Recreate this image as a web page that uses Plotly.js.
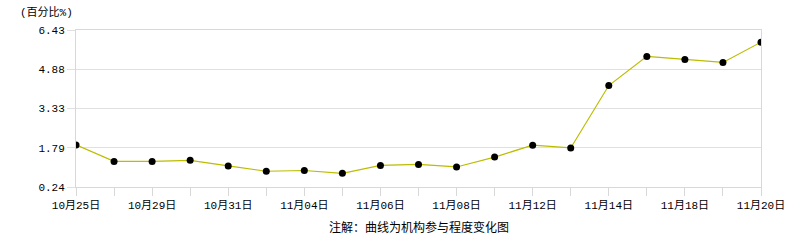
<!DOCTYPE html>
<html>
<head>
<meta charset="utf-8">
<script src="https://cdn.plot.ly/plotly-3.0.1.min.js"></script>
<style>html,body{margin:0;padding:0;background:#fff;}#chart{width:786px;height:240px;}</style>
</head>
<body>
<div id="chart"></div>
<script>
const categories = ["10月25日","10月28日","10月29日","10月30日","10月31日","11月01日","11月04日","11月05日","11月06日","11月07日","11月08日","11月11日","11月12日","11月13日","11月14日","11月15日","11月18日","11月19日","11月20日"];
const values = [1.90,1.25,1.25,1.29,1.07,0.86,0.89,0.78,1.09,1.13,1.03,1.42,1.89,1.78,4.24,5.39,5.27,5.15,5.95];
const yTicks = [0.24,1.79,3.33,4.88,6.43];
const yTickText = ["0.24","1.79","3.33","4.88","6.43"];
const xTickText = categories.map((c,i)=> i%2===0 ? c : "");

const FONT = "Liberation Mono, 'Noto Sans CJK SC', monospace";

Plotly.newPlot("chart", [{
  x: categories,
  y: values,
  type: "scatter",
  mode: "lines+markers",
  line: {color: "#bcbc00", width: 1.2},
  marker: {color: "#000000", size: 7},
  hoverinfo: "x+y"
}], {
  width: 786, height: 240,
  margin: {l: 76, r: 25, t: 30, b: 53},
  paper_bgcolor: "#ffffff",
  plot_bgcolor: "#ffffff",
  showlegend: false,
  font: {family: FONT, size: 11, color: "#000"},
  xaxis: {
    type: "category",
    range: [0, categories.length - 1],
    tickvals: categories,
    ticktext: xTickText,
    ticks: "outside", ticklen: 8, tickcolor: "#d8d8d8", tickwidth: 1,
    showgrid: false, zeroline: false,
    showline: true, linecolor: "#d8d8d8", linewidth: 1, mirror: true,
    tickfont: {family: FONT, size: 11, color: "#000"},
    fixedrange: true
  },
  yaxis: {
    range: [0.24, 6.43],
    tickvals: yTicks,
    ticktext: yTickText,
    ticks: "outside", ticklen: 8, tickcolor: "#e0e0e0", tickwidth: 1,
    showgrid: true, gridcolor: "#e0e0e0", gridwidth: 1,
    zeroline: false,
    showline: true, linecolor: "#d8d8d8", linewidth: 1, mirror: true,
    tickfont: {family: FONT, size: 11, color: "#000"},
    fixedrange: true
  },
  annotations: [
    {text: "(百分比%)", xref: "paper", yref: "paper", x: -76/685, y: 1 + 18/157,
     xanchor: "left", yanchor: "middle", showarrow: false, xshift: 18,
     font: {family: FONT, size: 11, color: "#000"}},
    {text: "注解：曲线为机构参与程度变化图", xref: "paper", yref: "paper", x: 0.5, y: 0,
     xanchor: "center", yanchor: "middle", showarrow: false, xshift: 0, yshift: -41,
     font: {family: FONT, size: 12, color: "#000"}}
  ]
}, {displayModeBar: false, staticPlot: true});
</script>
</body>
</html>
